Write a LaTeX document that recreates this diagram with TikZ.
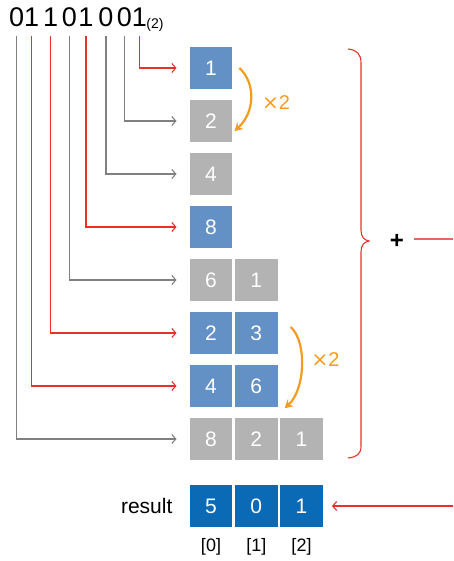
\documentclass[tikz,border=0pt]{standalone}
\usepackage{fontspec}
\setmainfont{Liberation Sans}
\newfontfamily\symfont{DejaVu Sans}
\usetikzlibrary{arrows.meta}
\definecolor{cellblue}{HTML}{6391C6}
\definecolor{cellgray}{HTML}{B3B3B3}
\definecolor{resblue}{HTML}{0A6AB6}
\definecolor{linered}{HTML}{E5332A}
\definecolor{linegray}{HTML}{808080}
\definecolor{accent}{HTML}{F39C1F}
\definecolor{softred}{HTML}{E8675C}
\begin{document}
\begin{tikzpicture}[x=1pt,y=-1pt,
  cell/.style={minimum width=42.5pt,minimum height=42pt,inner sep=0pt,text=white,
    font=\fontsize{21}{21}\selectfont},
  one/.style={cell,fill=cellblue},
  zero/.style={cell,fill=cellgray},
  res/.style={cell,fill=resblue},
  bit/.style={inner sep=0pt,anchor=base,font=\fontsize{27}{27}\selectfont},
  feed/.style={line width=1.1pt,-{Straight Barb[length=4pt,width=9pt]},
    shorten <=9pt,shorten >=13pt},
  feedon/.style={feed,draw=linered},
  feedoff/.style={feed,draw=linegray},
  dbl/.style={draw=accent,line width=2.2pt,-{Stealth[length=8pt,width=9pt]}},
  dbltext/.style={text=accent,font=\fontsize{20}{20}\selectfont},
  idx/.style={font=\fontsize{18}{18}\selectfont}]
\useasboundingbox (0,0) rectangle (453,561);

% binary number, one digit per node
\node[bit] (d1) at (16.7,27) {0};
\node[bit] (d2) at (31.7,27) {1};
\node[bit] (d3) at (50.7,27) {1};
\node[bit] (d4) at (69.3,27) {0};
\node[bit] (d5) at (86,27) {1};
\node[bit] (d6) at (106,27) {0};
\node[bit] (d7) at (124.3,27) {0};
\node[bit] (d8) at (139.3,27) {1};
\node[inner sep=0pt,font=\fontsize{14}{14}\selectfont] (base) at (155,25) {(2)};

% partial values
\node[one]  (a1) at (211,68)  {1};
\node[zero] (a2) at (211,121) {2};
\node[zero] (a3) at (211,174) {4};
\node[one]  (a4) at (211,227) {8};
\node[zero] (a5) at (211,280) {6};
\node[zero] (b5) at (256.3,280) {1};
\node[one]  (a6) at (211,333) {2};
\node[one]  (b6) at (256.3,333) {3};
\node[one]  (a7) at (211,386) {4};
\node[one]  (b7) at (256.3,386) {6};
\node[zero] (a8) at (211,439) {8};
\node[zero] (b8) at (256.3,439) {2};
\node[zero] (c8) at (301.5,439) {1};

% result array
\node[res] (r0) at (211,506) {5};
\node[res] (r1) at (256.3,506) {0};
\node[res] (r2) at (301.5,506) {1};
\node[font=\fontsize{21}{21}\selectfont] (lbl) at (146.7,506) {result};
\node[idx] (i0) at (211,547) {[0]};
\node[idx] (i1) at (256.3,547) {[1]};
\node[idx] (i2) at (301.5,547) {[2]};

% each bit feeds one row
\draw[feedon]  (d8.south) |- (a1.west);
\draw[feedoff] (d7.south) |- (a2.west);
\draw[feedoff] (d6.south) |- (a3.west);
\draw[feedon]  (d5.south) |- (a4.west);
\draw[feedoff] (d4.south) |- (a5.west);
\draw[feedon]  (d3.south) |- (a6.west);
\draw[feedon]  (d2.south) |- (a7.west);
\draw[feedoff] (d1.south) |- (a8.west);

% doubling steps
\draw[dbl] ([xshift=7pt]a1.east) .. controls +(17,16) and +(20,-18) .. ([shift={(2,10)}]a2.east);
\node[dbltext] (x1) at (276,103) {{\symfont ×}2};
\draw[dbl] ([shift={(13,-6)}]b6.east) .. controls +(17,16) and +(20,-18) .. ([shift={(7,1)}]b7.south east);
\node[dbltext] (x2) at (325.5,360) {{\symfont ×}2};

% sum brace
\draw[linered,line width=1.1pt] (348,49) .. controls (357,50) and (361,54) .. (361,63)
  -- (361,230) .. controls (361,237) and (364,240) .. (369,241)
  .. controls (364,242) and (361,245) .. (361,252)
  -- (361,446) .. controls (361,454) and (357,457) .. (348,458);
\node[font=\bfseries\fontsize{24}{24}\selectfont] (plus) at (397,241) {+};
\coordinate (outA) at (414,239);
\coordinate (outB) at (453,239);
\draw[softred,line width=1.1pt] (outA) -- (outB);
\coordinate (inR) at (453,506);
\draw[linered,line width=1.1pt,-{Straight Barb[length=4pt,width=9pt]},shorten >=9pt] (inR) -- (r2.east);
\end{tikzpicture}
\end{document}
